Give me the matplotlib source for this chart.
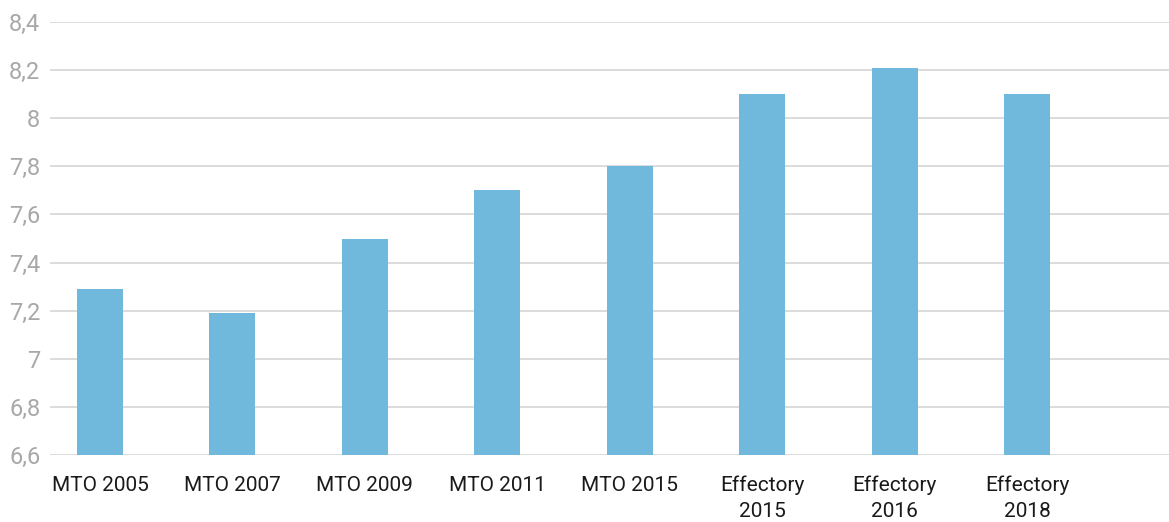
import matplotlib
matplotlib.use('Agg')
import matplotlib.pyplot as plt
from matplotlib.ticker import MultipleLocator, FuncFormatter

categories = ['MTO 2005', 'MTO 2007', 'MTO 2009', 'MTO 2011', 'MTO 2015',
              'Effectory\n2015', 'Effectory\n2016', 'Effectory\n2018']
scores = [7.29, 7.19, 7.5, 7.7, 7.8, 8.1, 8.21, 8.1]

plt.rcParams['font.family'] = ['Roboto', 'DejaVu Sans']

fig = plt.figure(figsize=(11.69, 5.22), dpi=100)
ax = fig.add_axes([50 / 1169, 1 - 455 / 522, 1 - 50 / 1169, (455 - 22) / 522])

x = range(len(categories))
ax.bar(x, [s - 6.6 for s in scores], bottom=6.6, width=0.347, color='#70B8DC', zorder=3)

ax.set_ylim(6.6, 8.4)
ax.set_xlim(-0.377, 8.07)
ax.yaxis.set_major_locator(MultipleLocator(0.2))
ax.yaxis.set_major_formatter(FuncFormatter(lambda v, p: f'{v:.1f}'.rstrip('0').rstrip('.').replace('.', ',')))
ax.grid(axis='y', color='#d9d9d9', linewidth=1.3, zorder=0)
ax.set_axisbelow(True)

ax.set_xticks(list(x))
ax.set_xticklabels(categories, fontsize=15, color='#1a1a1a', linespacing=1.45)
ax.tick_params(axis='x', length=0, pad=15)
ax.tick_params(axis='y', length=0, pad=7, labelsize=17, labelcolor='#a8a8a8')
for lbl in ax.get_xticklabels():
    lbl.set_verticalalignment('top')

for s in ax.spines.values():
    s.set_visible(False)

fig.savefig('out.png', dpi=100)
plt.close(fig)
